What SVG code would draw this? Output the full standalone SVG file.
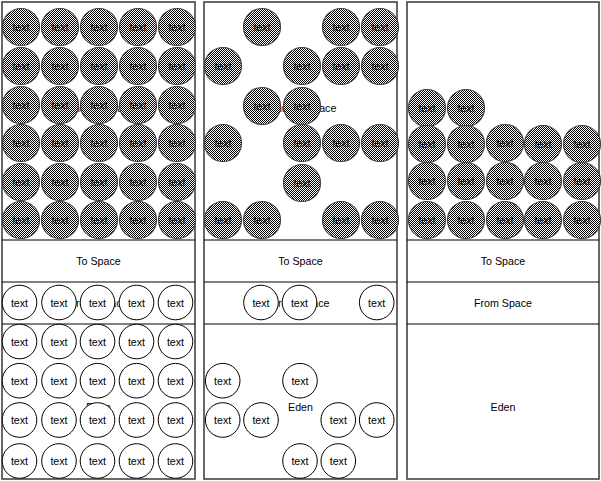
<svg xmlns="http://www.w3.org/2000/svg" width="601" height="481" viewBox="0 0 601 481">
<style>
.box{fill:#fff;stroke:#444;stroke-width:1.6}
.div{stroke:#000;stroke-width:1;fill:none}
.lbl{font-family:"Liberation Sans",Arial,sans-serif;font-size:10.67px;fill:#000;text-anchor:middle}
.hcir{fill:url(#chk);stroke:#444;stroke-width:1.2}
.pcir{fill:#fff;stroke:#000;stroke-width:1}
.ctxt{font-family:"Liberation Sans",Arial,sans-serif;font-size:10.67px;fill:#000;text-anchor:middle}
</style>
<defs>
<pattern id="chk" patternUnits="userSpaceOnUse" width="2" height="2">
<rect width="2" height="2" fill="#fff" shape-rendering="crispEdges"/>
<rect width="1" height="1" fill="#000" shape-rendering="crispEdges"/>
<rect x="1" y="1" width="1" height="1" fill="#000" shape-rendering="crispEdges"/>
</pattern>
<g id="hc"><circle class="hcir" r="18.5"/><text class="ctxt" y="4">text</text></g>
<g id="pc"><circle class="pcir" r="17.3"/><text class="ctxt" y="4">text</text></g>
</defs>

<g id="panel1">
<rect class="box" x="2" y="2" width="193" height="477"/>
<line class="div" x1="2" y1="240" x2="195" y2="240"/>
<line class="div" x1="2" y1="282" x2="195" y2="282"/>
<line class="div" x1="2" y1="324" x2="195" y2="324"/>
<text class="lbl" x="98.5" y="112">Tenured Space</text>
<text class="lbl" x="98.5" y="265">To Space</text>
<text class="lbl" x="98.5" y="307">From Space</text>
<text class="lbl" x="98.5" y="411">Eden</text>
</g>
<g id="panel2">
<rect class="box" x="204" y="2" width="193" height="477"/>
<line class="div" x1="204" y1="240" x2="397" y2="240"/>
<line class="div" x1="204" y1="282" x2="397" y2="282"/>
<line class="div" x1="204" y1="324" x2="397" y2="324"/>
<text class="lbl" x="300.5" y="112">Tenured Space</text>
<text class="lbl" x="300.5" y="265">To Space</text>
<text class="lbl" x="300.5" y="307">From Space</text>
<text class="lbl" x="300.5" y="411">Eden</text>
</g>
<g id="panel3">
<rect class="box" x="407" y="2" width="192" height="477"/>
<line class="div" x1="407" y1="240" x2="599" y2="240"/>
<line class="div" x1="407" y1="282" x2="599" y2="282"/>
<line class="div" x1="407" y1="324" x2="599" y2="324"/>
<text class="lbl" x="503" y="265">To Space</text>
<text class="lbl" x="503" y="307">From Space</text>
<text class="lbl" x="503" y="411">Eden</text>
</g>

<g id="p1-tenured">
<use href="#hc" x="21" y="27"/><use href="#hc" x="60" y="27"/><use href="#hc" x="99" y="27"/><use href="#hc" x="138" y="27"/><use href="#hc" x="177" y="27"/>
<use href="#hc" x="21" y="66"/><use href="#hc" x="60" y="66"/><use href="#hc" x="99" y="66"/><use href="#hc" x="138" y="66"/><use href="#hc" x="177" y="66"/>
<use href="#hc" x="21" y="105"/><use href="#hc" x="60" y="105"/><use href="#hc" x="99" y="105"/><use href="#hc" x="138" y="105"/><use href="#hc" x="177" y="105"/>
<use href="#hc" x="21" y="143"/><use href="#hc" x="60" y="143"/><use href="#hc" x="99" y="143"/><use href="#hc" x="138" y="143"/><use href="#hc" x="177" y="143"/>
<use href="#hc" x="21" y="182"/><use href="#hc" x="60" y="182"/><use href="#hc" x="99" y="182"/><use href="#hc" x="138" y="182"/><use href="#hc" x="177" y="182"/>
<use href="#hc" x="21" y="220"/><use href="#hc" x="60" y="220"/><use href="#hc" x="99" y="220"/><use href="#hc" x="138" y="220"/><use href="#hc" x="177" y="220"/>
</g>
<g id="p1-young">
<use href="#pc" x="19.5" y="302.5"/><use href="#pc" x="59" y="302.5"/><use href="#pc" x="97.5" y="302.5"/><use href="#pc" x="136.5" y="302.5"/><use href="#pc" x="175.5" y="302.5"/>
<use href="#pc" x="19.5" y="341.5"/><use href="#pc" x="59" y="341.5"/><use href="#pc" x="97.5" y="341.5"/><use href="#pc" x="136.5" y="341.5"/><use href="#pc" x="175.5" y="341.5"/>
<use href="#pc" x="19.5" y="380.7"/><use href="#pc" x="59" y="380.7"/><use href="#pc" x="97.5" y="380.7"/><use href="#pc" x="136.5" y="380.7"/><use href="#pc" x="175.5" y="380.7"/>
<use href="#pc" x="19.5" y="420"/><use href="#pc" x="59" y="420"/><use href="#pc" x="97.5" y="420"/><use href="#pc" x="136.5" y="420"/><use href="#pc" x="175.5" y="420"/>
<use href="#pc" x="19.5" y="461"/><use href="#pc" x="59" y="461"/><use href="#pc" x="97.5" y="461"/><use href="#pc" x="136.5" y="461"/><use href="#pc" x="175.5" y="461"/>
</g>

<g id="p2-tenured">
<use href="#hc" x="262" y="27"/><use href="#hc" x="341" y="27"/><use href="#hc" x="380" y="27"/>
<use href="#hc" x="223" y="66"/><use href="#hc" x="302" y="66"/><use href="#hc" x="341" y="66"/><use href="#hc" x="380" y="66"/>
<use href="#hc" x="262" y="106"/><use href="#hc" x="302" y="106"/>
<use href="#hc" x="223" y="143"/><use href="#hc" x="302" y="143"/><use href="#hc" x="341" y="143"/><use href="#hc" x="380" y="143"/>
<use href="#hc" x="302" y="183"/>
<use href="#hc" x="223" y="220"/><use href="#hc" x="262" y="220"/><use href="#hc" x="341" y="220"/><use href="#hc" x="380" y="220"/>
</g>
<g id="p2-young">
<use href="#pc" x="261" y="302.5"/><use href="#pc" x="299.5" y="302.5"/><use href="#pc" x="376.7" y="302.5"/>
<use href="#pc" x="222.7" y="380.7"/><use href="#pc" x="300" y="380.7"/>
<use href="#pc" x="222.7" y="420"/><use href="#pc" x="261" y="420"/><use href="#pc" x="338.3" y="420"/><use href="#pc" x="376.7" y="420"/>
<use href="#pc" x="300" y="461"/><use href="#pc" x="338.3" y="461"/>
</g>

<g id="p3-tenured">
<use href="#hc" x="427" y="108"/><use href="#hc" x="466" y="108"/>
<use href="#hc" x="427" y="144"/><use href="#hc" x="466" y="144"/><use href="#hc" x="505" y="143"/><use href="#hc" x="543" y="144"/><use href="#hc" x="582" y="144"/>
<use href="#hc" x="427" y="181"/><use href="#hc" x="466" y="181"/><use href="#hc" x="505" y="181"/><use href="#hc" x="543" y="181"/><use href="#hc" x="582" y="181"/>
<use href="#hc" x="427" y="220"/><use href="#hc" x="466" y="220"/><use href="#hc" x="505" y="220"/><use href="#hc" x="543" y="220"/><use href="#hc" x="582" y="220"/>
</g>
</svg>
